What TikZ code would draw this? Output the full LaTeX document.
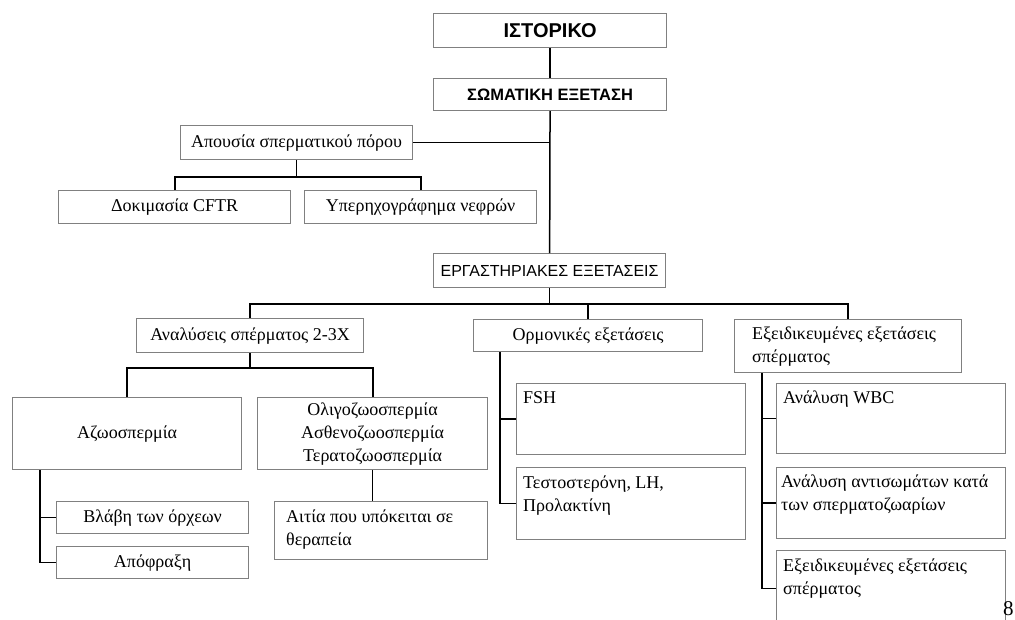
\documentclass[tikz,border=0pt]{standalone}
\usepackage{fontspec}
\setmainfont{Liberation Serif}
\setsansfont{Liberation Sans}
\definecolor{boxgray}{RGB}{128,128,128}
\newcommand{\toplines}[1]{\begin{tabular}[t]{@{}l@{}}#1\end{tabular}}
\tikzset{
  box/.style={draw=boxgray, line width=1.2pt, inner sep=0pt, anchor=north west, align=center, font=\fontsize{18}{23}\selectfont},
  head/.style={box, font=\sffamily\bfseries\fontsize{20}{24}\selectfont},
  lab/.style={box, font=\sffamily\fontsize{16}{20}\selectfont},
  txt/.style={anchor=base west, inner sep=0pt, font=\fontsize{18}{23}\selectfont},
  link/.style={line width=1.5pt, black},
  bar/.style={line width=2.2pt, black},
}
\begin{document}
\begin{tikzpicture}[x=1pt, y=-1pt]
  \useasboundingbox (0,0) rectangle (1015,619);
  \clip (0,0) rectangle (1015,619);

  \node[head, minimum width=233, minimum height=34] (ist) at (433,13) {ΙΣΤΟΡΙΚΟ};
  \node[head, font=\sffamily\bfseries\fontsize{16.5}{20}\selectfont, minimum width=233, minimum height=32] (som) at (433,78) {ΣΩΜΑΤΙΚΗ ΕΞΕΤΑΣΗ};
  \node[box, minimum width=232, minimum height=34] (apou) at (180,125) {Απουσία σπερματικού πόρου};
  \node[box, minimum width=232, minimum height=33] (cftr) at (58,190) {Δοκιμασία CFTR};
  \node[box, minimum width=232, minimum height=33] (yper) at (304,190) {Υπερηχογράφημα νεφρών};
  \node[lab, minimum width=232, minimum height=34] (erg) at (433,253) {ΕΡΓΑΣΤΗΡΙΑΚΕΣ ΕΞΕΤΑΣΕΙΣ};

  \node[box, minimum width=227, minimum height=34] (anal) at (136,318) {Αναλύσεις σπέρματος 2-3X};
  \node[box, minimum width=229, minimum height=32] (orm) at (473,319) {Ορμονικές εξετάσεις};
  \node[box, minimum width=227, minimum height=53] (eidik) at (734,319) {};
  \node[txt, xshift=18pt, yshift=-20pt] (eidikT) at (eidik.north west) {\toplines{Εξειδικευμένες εξετάσεις\\σπέρματος}};

  \node[box, minimum width=229, minimum height=72] (azoo) at (12,397) {Αζωοσπερμία};
  \node[box, minimum width=230, minimum height=72] (oligo) at (257,397) {Ολιγοζωοσπερμία\\Ασθενοζωοσπερμία\\Τερατοζωοσπερμία};
  \node[box, minimum width=192, minimum height=32] (vlavi) at (56,501) {Βλάβη των όρχεων};
  \node[box, minimum width=192, minimum height=32] (apofr) at (56,546) {Απόφραξη};
  \node[box, minimum width=213, minimum height=58] (aitia) at (274,501) {};
  \node[txt, xshift=12pt, yshift=-21pt] (aitiaT) at (aitia.north west) {\toplines{Αιτία που υπόκειται σε\\θεραπεία}};

  \node[box, minimum width=229, minimum height=71] (fsh) at (516,383) {};
  \node[txt, xshift=7pt, yshift=-20pt] (fshT) at (fsh.north west) {FSH};
  \node[box, minimum width=229, minimum height=72] (test) at (516,467) {};
  \node[txt, xshift=7pt, yshift=-21pt] (testT) at (test.north west) {\toplines{Τεστοστερόνη, LH,\\Προλακτίνη}};

  \node[box, minimum width=229, minimum height=70] (wbc) at (776,383) {};
  \node[txt, xshift=7pt, yshift=-20pt] (wbcT) at (wbc.north west) {Ανάλυση WBC};
  \node[box, minimum width=229, minimum height=71] (anti) at (776,467) {};
  \node[txt, xshift=5pt, yshift=-20pt] (antiT) at (anti.north west) {\toplines{Ανάλυση αντισωμάτων κατά\\των σπερματοζωαρίων}};
  \node[box, minimum width=229, minimum height=76] (spec) at (776,550) {};
  \node[txt, xshift=7pt, yshift=-21pt] (specT) at (spec.north west) {\toplines{Εξειδικευμένες εξετάσεις\\σπέρματος}};

  \node[anchor=base west, inner sep=0pt, font=\fontsize{21}{21}\selectfont] (pg) at (1003,615) {8};

  \draw[link] (ist) -- (som);
  \draw[link] (som) -- (erg);
  \draw[link] (apou.east) -- (apou.east -| som.south);
  \draw[link] (apou.south) -- ++(0,17) coordinate (apouJ);
  \draw[bar] (cftr.north) |- (apouJ) -| (yper.north);

  \draw[link] (erg.south) -- ++(0,16) coordinate (ergJ);
  \draw[bar] (anal.north) |- (ergJ) -| (eidik.north);
  \draw[link] (orm.north) -- (orm.north |- ergJ);

  \draw[link] (anal.south) -- ++(0,15) coordinate (analJ);
  \draw[bar] (azoo.north) |- (analJ) -| (oligo.north);
  \draw[link] (azoo.south west) ++(28,0) coordinate (azooL) -- (azooL |- apofr.west) -- (apofr.west);
  \draw[link] (azooL |- vlavi.west) -- (vlavi.west);
  \draw[link] (oligo.south) -- (oligo.south |- aitia.north);

  \draw[link] (orm.south west) ++(27,0) coordinate (ormL) -- (ormL |- test.west) -- (test.west);
  \draw[link] (ormL |- fsh.west) -- (fsh.west);

  \draw[link] (eidik.south west) ++(28,0) coordinate (eidikL) -- (eidikL |- spec.west) -- (spec.west);
  \draw[link] (eidikL |- wbc.west) -- (wbc.west);
  \draw[link] (eidikL |- anti.west) -- (anti.west);
\end{tikzpicture}
\end{document}
